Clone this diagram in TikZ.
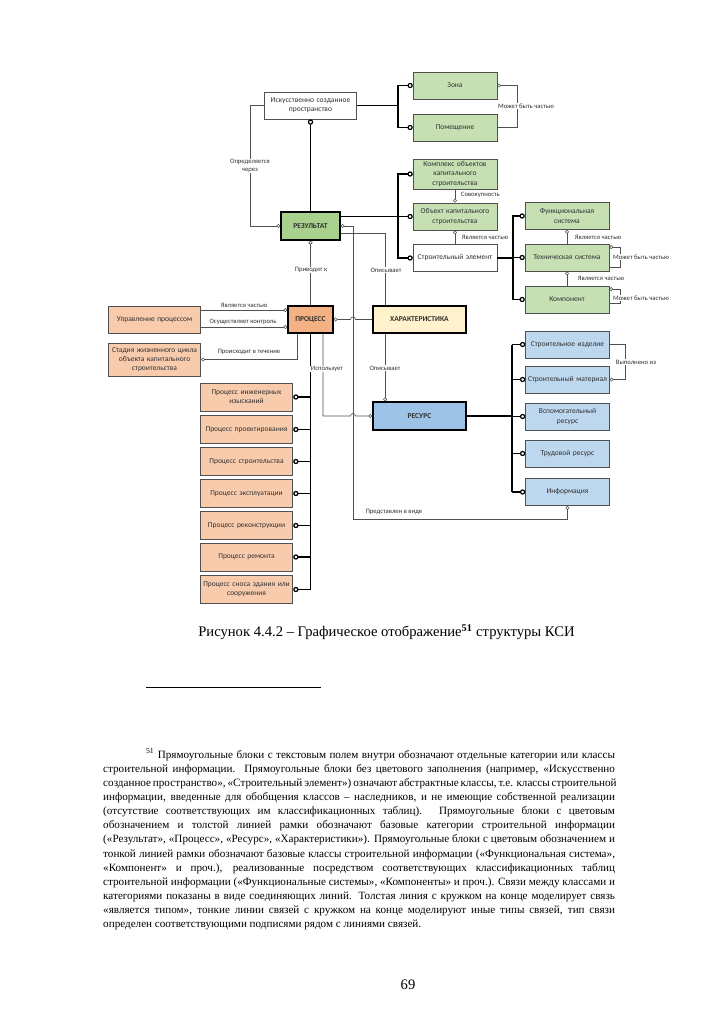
\documentclass[tikz,border=0pt]{standalone}
\usepackage{fontspec}
\setmainfont{Liberation Serif}
\newfontfamily\carlito{Carlito}
\usepackage{tikz}
\usetikzlibrary{arrows.meta}
\usetikzlibrary{positioning}

\definecolor{ksigreen}{HTML}{C6E0B4}
\definecolor{ksigreendk}{HTML}{A9D18E}
\definecolor{ksiyellow}{HTML}{FFF2CC}
\definecolor{ksiorange}{HTML}{F4B183}
\definecolor{ksiorangelt}{HTML}{F8CBAD}
\definecolor{ksiblue}{HTML}{9DC3E6}
\definecolor{ksibluelt}{HTML}{BDD7EE}
\definecolor{ksiline}{HTML}{505050}
\definecolor{ksitext}{HTML}{303030}

\newcommand{\fnline}[1]{\makebox[423pt][s]{#1}}

\tikzset{
  ksibox/.style={draw=ksiline, line width=0.6pt, fill=white, inner sep=0pt,
    align=center, text=ksitext, font=\carlito\fontsize{6.2}{7.6}\selectfont,
    minimum width=69.2pt, minimum height=22.4pt, text width=67pt},
  widebox/.style={minimum width=76.6pt, text width=74pt},
  basebox/.style={ksibox, draw=black, line width=1.4pt,
    font=\carlito\bfseries\fontsize{6.2}{7.6}\selectfont},
  greenbox/.style={ksibox, fill=ksigreen},
  bluebox/.style={ksibox, fill=ksibluelt},
  pbox/.style={ksibox, widebox, fill=ksiorangelt, minimum height=23pt},
  lbl/.style={font=\carlito\fontsize{5.5}{6.4}\selectfont, text=ksitext,
    fill=white, inner sep=0.6pt, align=center},
  thk/.style={line width=1.4pt, black},
  thn/.style={line width=0.5pt, ksiline},
  oend/.style={-{Circle[open, length=3.2pt, line width=0.5pt]}},
  ostart/.style={{Circle[open, length=3.2pt, line width=0.5pt]}-},
  oboth/.style={{Circle[open, length=3.2pt, line width=0.5pt]}-{Circle[open, length=3.2pt, line width=0.5pt]}},
  Oend/.style={-{Circle[open, length=4.4pt, line width=1pt]}},
  Ostart/.style={{Circle[open, length=4.4pt, line width=1pt]}-},
}

\begin{document}
\begin{tikzpicture}[x=0.2905mm, y=-0.2905mm]
  \useasboundingbox (0,0) rectangle (723,1024);

  % ===== bus positions =====
  \coordinate (busA) at (398,0);
  \coordinate (busB) at (398,0);
  \coordinate (busC) at (513,0);
  \coordinate (busD) at (512,0);

  % ===== upper part =====
  \node[ksibox, widebox] (isp) at (310.5,105.5) {Искусственно созданное\\пространство};
  \node[greenbox] (zona) at (455,85.5) {Зона};
  \node[greenbox] (pom) at (455,127.5) {Помещение};
  \node[greenbox, minimum height=24.7pt] (kompl) at (455,174) {Комплекс объектов\\капитального\\строительства};
  \node[greenbox] (obj) at (455,216.5) {Объект капитального\\строительства};
  \node[ksibox] (selem) at (455,258) {Строительный элемент};
  \node[basebox, fill=ksigreendk, minimum width=48.6pt, text width=46pt, minimum height=23pt] (rez) at (310.5,226) {РЕЗУЛЬТАТ};

  \node[greenbox] (func) at (567,216) {Функциональная\\система};
  \node[greenbox] (tech) at (567,257.5) {Техническая система};
  \node[greenbox] (komp) at (567,299.5) {Компонент};

  % ===== middle part =====
  \node[basebox, fill=ksiyellow, minimum width=76.6pt, text width=73pt] (har) at (419.5,319.5) {ХАРАКТЕРИСТИКА};
  \node[basebox, fill=ksiorange, minimum width=37pt, text width=35pt] (proc) at (310.5,319.5) {ПРОЦЕСС};
  \node[ksibox, widebox, fill=ksiorangelt] (upr) at (154.5,319.5) {Управление процессом};
  \node[ksibox, widebox, fill=ksiorangelt, minimum height=27.2pt] (stad) at (154.5,359.5) {Стадия жизненного цикла\\объекта капитального\\строительства};
  \node[basebox, fill=ksiblue, minimum width=76.6pt, text width=73pt, minimum height=23pt] (res) at (419.5,416) {РЕСУРС};

  % resources
  \node[bluebox] (izd) at (567.5,344.5) {Строительное изделие};
  \node[bluebox] (mat) at (567.5,379.5) {Строительный материал};
  \node[bluebox] (vsp) at (567.5,416.5) {Вспомогательный\\ресурс};
  \node[bluebox] (trud) at (567.5,453.5) {Трудовой ресурс};
  \node[bluebox] (inf) at (567.5,492) {Информация};

  % processes
  \foreach \n/\yy/\txt in {1/397/{Процесс инженерных\\изысканий},
      2/429.5/{Процесс проектирования}, 3/461.5/{Процесс строительства},
      4/493.5/{Процесс эксплуатации}, 5/525.5/{Процесс реконструкции},
      6/557/{Процесс ремонта}, 7/589.5/{Процесс сноса здания или\\сооружения}}
    \node[pbox] (p\n) at (246.5,\yy) {\txt};

  % ===== thick links =====
  \draw[thk, Ostart] (isp.south) -- (rez.north);
  \draw[thk, Oend] (isp.east) -| (busA |- zona.west) -- (zona.west);
  \draw[thk, Oend] (isp.east) -| (busA |- pom.west) -- (pom.west);

  \draw[thk, Oend] (rez.east |- obj.west) -- (obj.west);
  \draw[thk, Oend] (rez.east |- obj.west) -| (busB |- kompl.west) -- (kompl.west);
  \draw[thk, Oend] (rez.east |- obj.west) -| (busB |- selem.west) -- (selem.west);

  \draw[thk, Oend] (selem.east) -| (busC |- tech.west) -- (tech.west);
  \draw[thk, Oend] (selem.east) -| (busC |- func.west) -- (func.west);
  \draw[thk, Oend] (selem.east) -| (busC |- komp.west) -- (komp.west);

  \draw[thk] (res.east) -| (busD |- izd.west);
  \draw[thk] (res.east) -| (busD |- inf.west);
  \foreach \r in {izd, mat, vsp, trud, inf}
    \draw[thk, Oend] (busD |- \r.west) -- (\r.west);

  \draw[thk] (proc.south) -- (proc.south |- p7.east);
  \foreach \n in {1,...,7}
    \draw[thk, Oend] (proc.south |- p\n.east) -- (p\n.east);

  % ===== thin links =====
  \draw[thn, oend] (isp.west) -- ++(-14,0) |- (rez.west);
  \node[lbl] (lopr) at (250,166) {Определяется\\через};

  \draw[thn, ostart] (zona.east) -- ++(20,0) |- (pom.east);
  \node[lbl] (lzona) at (526,106) {Может быть частью};

  \draw[thn, oend] (kompl.south) -- (obj.north);
  \node[lbl, anchor=west] (lsov) at (460,195) {Совокупность};
  \draw[thn, ostart] (obj.south) -- (selem.north);
  \node[lbl, anchor=west] (lobj) at (461,237) {Является частью};

  \draw[thn, ostart] (func.south) -- (tech.north);
  \node[lbl, anchor=west] (lfunc) at (574,237) {Является частью};
  \draw[thn, ostart] (tech.south) -- (komp.north);
  \node[lbl, anchor=west] (ltech) at (577,278) {Является частью};

  \draw[thn, ostart] ([yshift=8.6pt]tech.east) -- ++(11,0) |- ([yshift=-7.8pt]tech.east);
  \node[lbl] (lloop1) at (641,257) {Может быть частью};
  \draw[thn, ostart] ([yshift=8.6pt]komp.east) -- ++(11,0) |- ([yshift=-2.9pt]komp.east);
  \node[lbl] (lloop2) at (641,298) {Может быть частью};

  \draw[thn, oend] (izd.east) -- ++(16,0) |- (mat.east);
  \node[lbl] (lvyp) at (636,362) {Выполнено из};

  % result -> information, result <- characteristic
  \draw[thn, oboth] (rez.east) -| (353,519) -| (inf.south);
  \node[lbl, fill=none] (lpred) at (394,512) {Представлен в виде};
  \draw[thn] ([yshift=-5.8pt]rez.east) -| ([xshift=-28.4pt]har.north);
  \node[lbl] (lopis1) at (386,270) {Описывает};
  \draw[thn, oend] ([xshift=-28.4pt]har.south) -- ([xshift=-28.4pt]res.north);
  \node[lbl] (lopis2) at (385,368) {Описывает};

  \draw[thn, oend] (proc.north) -- (rez.south);
  \node[lbl] (lpriv) at (311,270) {Приводит к};

  % process links
  \draw[thn, oend] ([yshift=7.8pt]upr.east) -- ([yshift=7.8pt]proc.west);
  \node[lbl, fill=none] (lupr1) at (244,305) {Является частью};
  \draw[thn, oend] ([yshift=-6.2pt]upr.east) -- ([yshift=-6.2pt]proc.west);
  \node[lbl, fill=none] (lupr2) at (243,322) {Осуществляет контроль};
  \draw[thn, oend] ([xshift=-11.1pt]proc.south) |- (stad.east);
  \node[lbl, fill=none] (lstad) at (249,352) {Происходит в течение};

  \draw[thn, ostart] (proc.east) -- (350.5,319.5) arc[start angle=180, end angle=0, radius=2.06pt] -- (har.west);
  \draw[thn, oend] ([xshift=10.3pt]proc.south) |- (350.5,416) arc[start angle=180, end angle=0, radius=2.06pt] -- (res.west);
  \node[lbl] (lisp) at (327,369) {Использует};

  % ===== caption and footnote =====
  \node[font=\fontsize{12.1}{14}\selectfont] (cap) at (386.5,632)
    {Рисунок 4.4.2 – Графическое отображение\textsuperscript{\textbf{51}} структуры КСИ};
  \draw[line width=0.7pt] (146,687) -- (321,687);
  \node[anchor=north west, inner sep=0pt, align=left,
        font=\fontsize{9.2}{11.7}\selectfont] (fn) at (103,748) {%
    \spaceskip=0.25em plus 1em minus 0.12em\relax
    \fnline{\hspace*{35.4pt}\textsuperscript{51} Прямоугольные блоки с текстовым полем внутри обозначают отдельные категории или классы}\\
    \fnline{строительной информации. Прямоугольные блоки без цветового заполнения (например, «Искусственно}\\
    \fnline{созданное пространство», «Строительный элемент») означают абстрактные классы, т.е. классы строительной}\\
    \fnline{информации, введенные для обобщения классов – наследников, и не имеющие собственной реализации}\\
    \fnline{(отсутствие соответствующих им классификационных таблиц). Прямоугольные блоки с цветовым}\\
    \fnline{обозначением и толстой линией рамки обозначают базовые категории строительной информации}\\
    \fnline{(«Результат», «Процесс», «Ресурс», «Характеристики»). Прямоугольные блоки с цветовым обозначением и}\\
    \fnline{тонкой линией рамки обозначают базовые классы строительной информации («Функциональная система»,}\\
    \fnline{«Компонент» и проч.), реализованные посредством соответствующих классификационных таблиц}\\
    \fnline{строительной информации («Функциональные системы», «Компоненты» и проч.). Связи между классами и}\\
    \fnline{категориями показаны в виде соединяющих линий. Толстая линия с кружком на конце моделирует связь}\\
    \fnline{«является типом», тонкие линии связей с кружком на конце моделируют иные типы связей, тип связи}\\
    определен соответствующими подписями рядом с линиями связей.};
  \node[font=\fontsize{12}{14}\selectfont] (pnum) at (408,985) {69};
\end{tikzpicture}
\end{document}
